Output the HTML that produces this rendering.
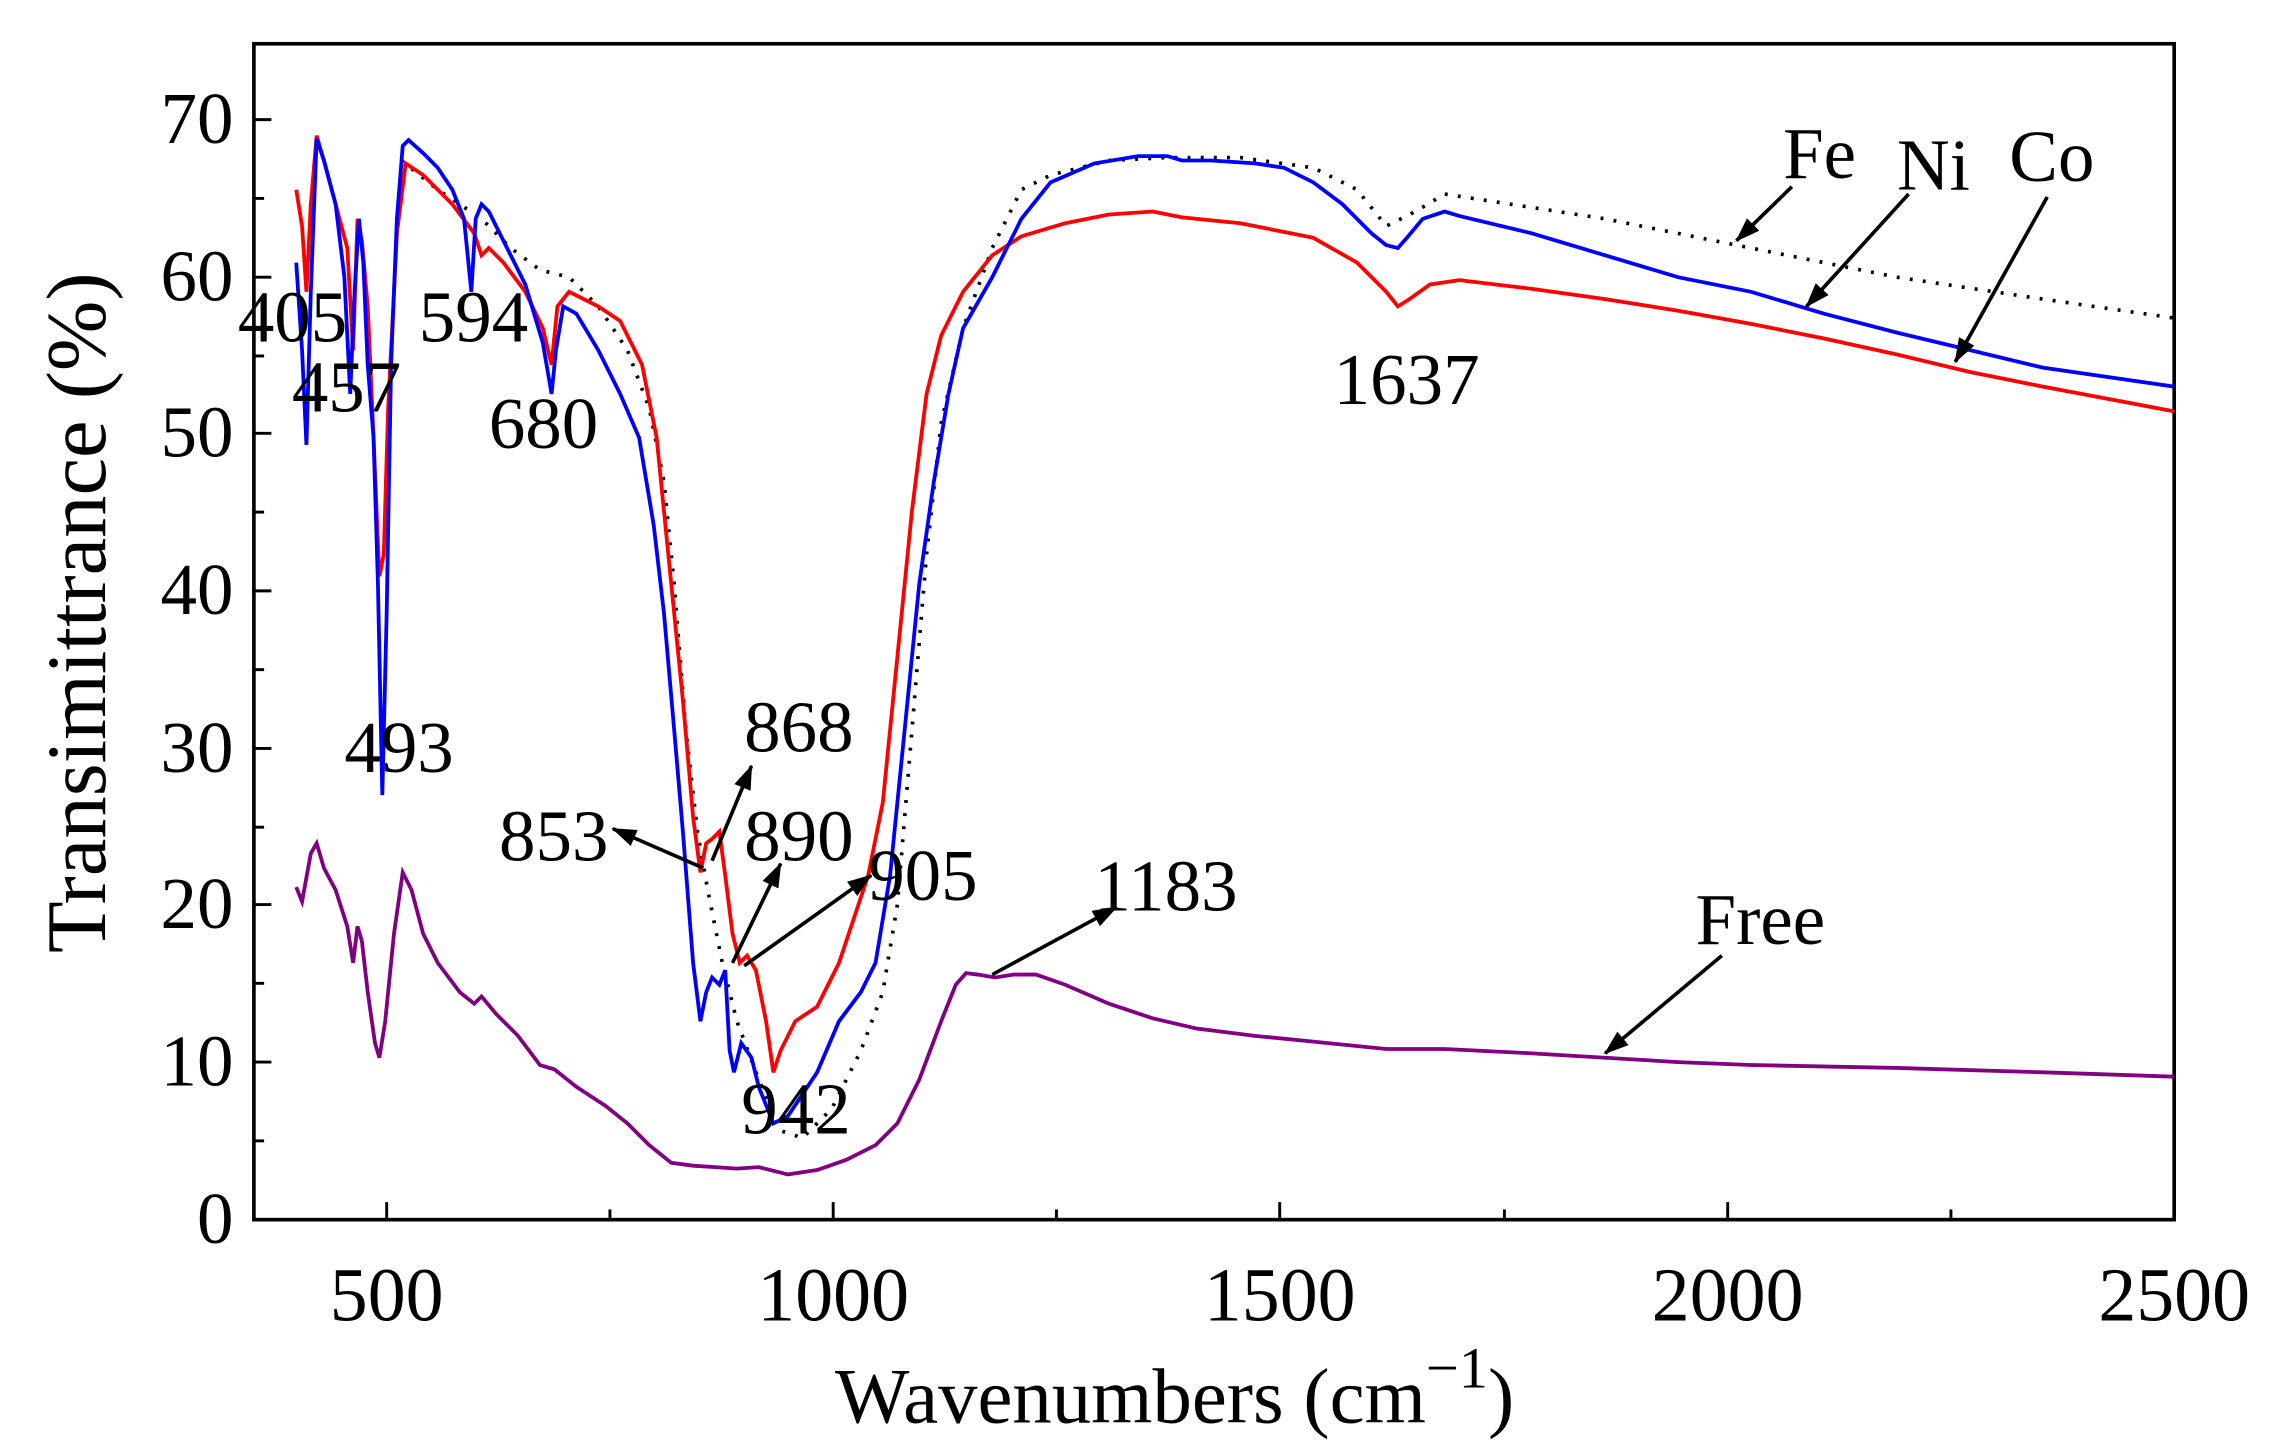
<!DOCTYPE html>
<html><head><meta charset="utf-8"><style>
html,body{margin:0;padding:0;background:#fff;}
svg{display:block;}
text{font-family:"Liberation Serif",serif;fill:#000;}
</style></head><body>
<svg width="2288" height="1456" viewBox="0 0 1568 998" preserveAspectRatio="none" xmlns="http://www.w3.org/2000/svg">
<defs>
<marker id="ah2" markerWidth="18" markerHeight="12" refX="16" refY="6" orient="auto" markerUnits="userSpaceOnUse"><path d="M0,0 L17,6 L0,12 z" fill="#000"/></marker></defs>
<rect x="174" y="30" width="1316" height="806" fill="none" stroke="#000" stroke-width="2.5"/>
<g stroke="#000" stroke-width="2">
<line x1="265" y1="836" x2="265" y2="824"/><line x1="418" y1="836" x2="418" y2="829"/>
<line x1="571" y1="836" x2="571" y2="824"/><line x1="724" y1="836" x2="724" y2="829"/>
<line x1="877" y1="836" x2="877" y2="824"/><line x1="1031" y1="836" x2="1031" y2="829"/>
<line x1="1184" y1="836" x2="1184" y2="824"/><line x1="1337" y1="836" x2="1337" y2="829"/>
<line x1="174" y1="728" x2="186" y2="728"/><line x1="174" y1="620" x2="186" y2="620"/>
<line x1="174" y1="513" x2="186" y2="513"/><line x1="174" y1="405" x2="186" y2="405"/>
<line x1="174" y1="297" x2="186" y2="297"/><line x1="174" y1="190" x2="186" y2="190"/>
<line x1="174" y1="82" x2="186" y2="82"/>
<line x1="174" y1="782" x2="181" y2="782"/><line x1="174" y1="674" x2="181" y2="674"/>
<line x1="174" y1="567" x2="181" y2="567"/><line x1="174" y1="459" x2="181" y2="459"/>
<line x1="174" y1="351" x2="181" y2="351"/><line x1="174" y1="244" x2="181" y2="244"/>
<line x1="174" y1="136" x2="181" y2="136"/>
</g>
<g font-size="50" text-anchor="end">
<text x="160" y="852">0</text><text x="160" y="744">10</text><text x="160" y="636">20</text>
<text x="160" y="529">30</text><text x="160" y="421">40</text><text x="160" y="313">50</text>
<text x="160" y="206">60</text><text x="160" y="98">70</text></g>
<g font-size="52" text-anchor="middle">
<text x="265" y="905">500</text><text x="571" y="905">1000</text><text x="877" y="905">1500</text>
<text x="1184" y="905">2000</text><text x="1490" y="905">2500</text></g>
<text x="805" y="975" font-size="54" text-anchor="middle">Wavenumbers (cm<tspan dy="-24" font-size="40">−1</tspan><tspan dy="24">)</tspan></text>
<text transform="translate(72,420) rotate(-90)" font-size="58" text-anchor="middle">Transimittrance (%)</text>
<polyline fill="none" stroke="#000" stroke-width="2.5" stroke-dasharray="2,7" points="275,110 300,130 330,150 350,170 370,185 390,190 410,210 430,240 445,280 455,330 462,400 470,500 478,570 485,610 495,660 505,700 520,740 535,775 550,780 570,760 590,720 605,680 615,620 625,500 635,380 645,290 660,225 680,170 700,130 720,120 760,110 800,108 850,108 900,115 930,130 950,155 970,145 990,133 1100,150 1200,170 1300,190 1400,205 1490,218"/>
<polyline fill="none" stroke="#ff0000" stroke-width="2.6" points="203,130 207,155 210,200 213,140 217,93 222,110 230,140 238,170 242,240 245,150 248,165 252,210 256,300 260,395 263,380 266,280 272,160 278,112 290,120 310,140 325,160 330,175 335,170 345,180 360,200 372,225 378,250 382,210 390,200 410,210 425,220 440,250 450,300 460,400 468,480 475,560 480,598 484,578 488,575 493,570 497,600 502,640 507,660 512,655 518,665 525,700 530,735 535,720 545,700 560,690 575,660 585,630 595,600 605,550 615,450 625,350 635,270 645,230 660,200 680,175 700,162 730,153 760,147 790,145 810,149 850,153 900,163 930,180 950,200 958,210 966,205 980,195 1000,192 1050,198 1100,205 1150,213 1200,222 1250,232 1300,243 1350,255 1400,265 1490,282"/>
<polyline fill="none" stroke="#0000ff" stroke-width="2.6" points="203,180 207,240 210,305 213,200 217,95 222,110 230,140 236,190 240,270 243,200 246,150 249,180 252,250 256,300 259,400 262,545 265,420 268,250 272,150 276,100 280,96 290,105 300,115 310,130 318,150 323,200 326,150 330,140 335,145 345,165 360,195 372,235 378,270 381,240 386,210 395,215 410,240 425,270 438,300 448,360 455,420 462,500 468,570 475,660 480,700 484,680 488,670 493,675 497,665 500,720 503,735 508,715 515,725 520,745 530,770 540,765 550,750 560,735 575,700 590,680 600,660 610,600 620,500 630,400 640,330 650,270 660,225 680,190 700,150 720,125 750,112 780,107 800,107 810,110 830,110 860,112 880,115 900,125 920,140 940,160 950,168 958,170 965,162 975,150 990,145 1000,148 1050,160 1100,175 1150,190 1200,200 1250,215 1300,228 1350,240 1400,252 1490,265"/>
<polyline fill="none" stroke="#800080" stroke-width="2.6" points="203,608 207,618 213,585 217,578 222,595 230,610 238,635 242,660 245,635 248,645 252,680 257,715 260,725 264,700 270,640 276,598 282,610 290,640 300,660 315,680 325,688 330,683 340,695 355,710 370,730 380,733 395,745 415,758 430,770 445,785 460,797 475,799 490,800 505,801 520,800 540,805 560,802 580,795 600,785 615,770 630,740 645,700 655,675 662,667 670,668 682,670 695,668 710,668 730,675 760,688 790,698 820,705 860,710 900,714 950,719 990,719 1050,722 1100,725 1150,728 1200,730 1300,732 1400,735 1490,738"/>
<g stroke="#000" stroke-width="2.5" fill="none">
<line x1="482" y1="595" x2="420" y2="568" marker-end="url(#ah2)"/>
<line x1="488" y1="590" x2="515" y2="525" marker-end="url(#ah2)"/>
<line x1="502" y1="660" x2="535" y2="592" marker-end="url(#ah2)"/>
<line x1="510" y1="662" x2="597" y2="600" marker-end="url(#ah2)"/>
<line x1="680" y1="668" x2="765" y2="622" marker-end="url(#ah2)"/>
<line x1="1228" y1="128" x2="1190" y2="165" marker-end="url(#ah2)"/>
<line x1="1308" y1="133" x2="1238" y2="210" marker-end="url(#ah2)"/>
<line x1="1403" y1="135" x2="1340" y2="248" marker-end="url(#ah2)"/>
<line x1="1180" y1="655" x2="1100" y2="722" marker-end="url(#ah2)"/>
</g>
<g font-size="50">
<text x="163" y="234">405</text><text x="200" y="282">457</text><text x="287" y="234">594</text>
<text x="335" y="307">680</text><text x="236" y="529">493</text><text x="510" y="515">868</text>
<text x="342" y="590">853</text><text x="510" y="590">890</text><text x="595" y="617">905</text>
<text x="508" y="777">942</text><text x="750" y="624">1183</text><text x="914" y="277">1637</text>
<text x="1222" y="122">Fe</text><text x="1300" y="130">Ni</text><text x="1377" y="124">Co</text>
<text x="1162" y="647">Free</text></g>
</svg>
</body></html>
